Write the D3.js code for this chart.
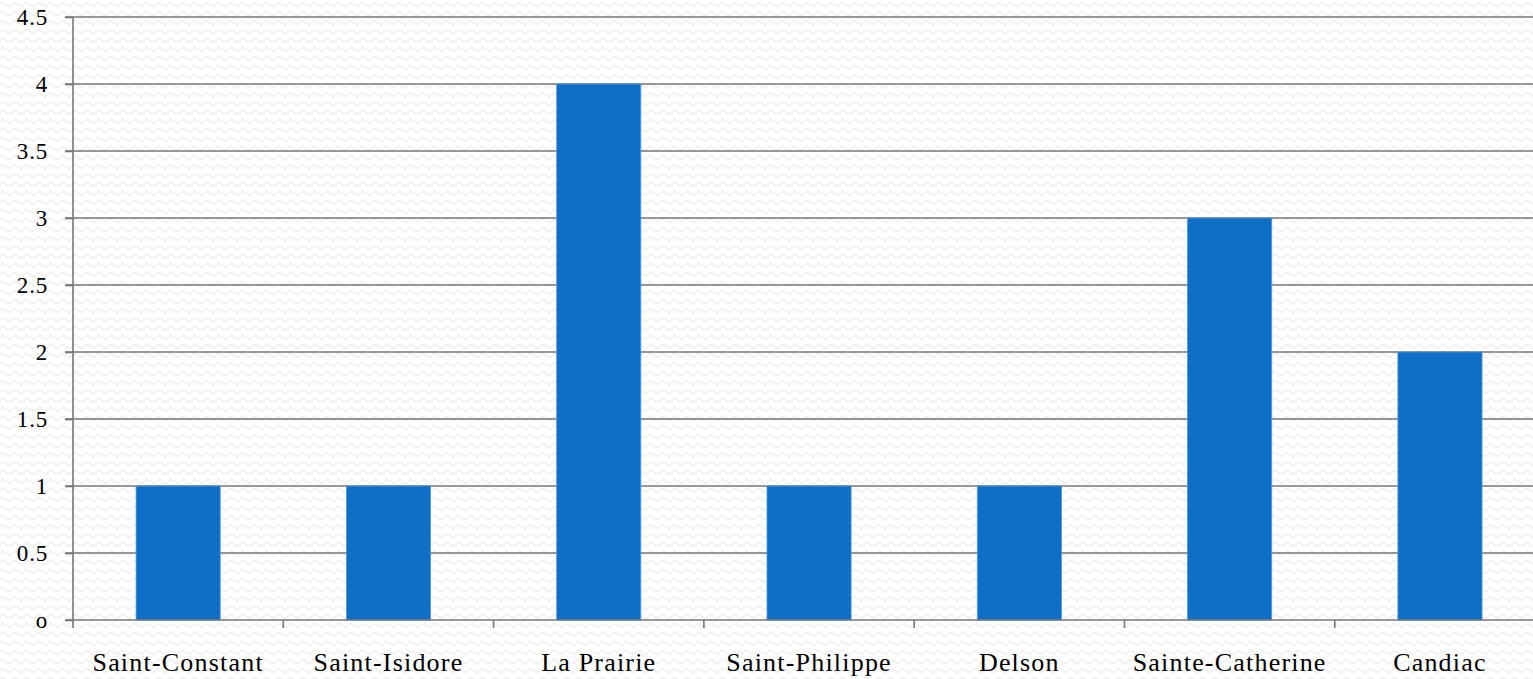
<!DOCTYPE html>
<html>
<head>
<meta charset="utf-8">
<script src="https://cdn.jsdelivr.net/npm/d3@7"></script>
<style>
  html, body { margin: 0; padding: 0; background: #fff; overflow: hidden; }
  svg { display: block; }
  text { font-family: "Liberation Serif", "DejaVu Serif", serif; fill: #000; }
</style>
</head>
<body>
<svg id="chart" width="1533" height="679"></svg>
<script>
// Data
const cities = ["Saint-Constant", "Saint-Isidore", "La Prairie", "Saint-Philippe", "Delson", "Sainte-Catherine", "Candiac"];
const counts = [1, 1, 4, 1, 1, 3, 2];
const yTicks = [0, 0.5, 1, 1.5, 2, 2.5, 3, 3.5, 4, 4.5];
const yTickLabels = ["o", "0.5", "1", "1.5", "2", "2.5", "3", "3.5", "4", "4.5"];

const W = 1533, H = 679;
const mLeft = 73, mTop = 17, mBottom = 620;
const step = 210.3;

const svg = d3.select("#chart");

// faint wavy background pattern
const defs = svg.append("defs");
const pat = defs.append("pattern")
  .attr("id", "wave")
  .attr("width", 12).attr("height", 9)
  .attr("patternUnits", "userSpaceOnUse");
pat.append("rect").attr("width", 12).attr("height", 9).attr("fill", "#fff");
pat.append("path")
  .attr("d", "M0,4.5 Q3,1 6,4.5 T12,4.5")
  .attr("fill", "none")
  .attr("stroke", "#f2f2f2")
  .attr("stroke-width", 2);
svg.append("rect").attr("width", W).attr("height", H).attr("fill", "url(#wave)");

const x = d3.scaleBand()
  .domain(cities)
  .range([mLeft, mLeft + step * cities.length])
  .paddingInner(0.6)
  .paddingOuter(0.3);

const y = d3.scaleLinear()
  .domain([0, 4.5])
  .range([mBottom, mTop]);

// gridlines
svg.append("g")
  .selectAll("line")
  .data(yTicks.filter(d => d > 0))
  .join("line")
  .attr("x1", mLeft - 8)
  .attr("x2", W)
  .attr("y1", d => y(d))
  .attr("y2", d => y(d))
  .attr("stroke", "#767676")
  .attr("stroke-width", 1.6);

// bars
svg.append("g")
  .selectAll("rect")
  .data(counts)
  .join("rect")
  .attr("x", (d, i) => x(cities[i]))
  .attr("y", d => y(d))
  .attr("width", x.bandwidth())
  .attr("height", d => y(0) - y(d))
  .attr("fill", "#0f6fc6")
  .attr("stroke", "#4f97d8")
  .attr("stroke-width", 0.8);

// y axis
const yAxis = svg.append("g")
  .attr("transform", `translate(${mLeft},0)`)
  .call(d3.axisLeft(y)
    .tickValues(yTicks)
    .tickFormat((d, i) => yTickLabels[i])
    .tickSize(8)
    .tickPadding(17));
yAxis.select(".domain").attr("stroke", "#767676").attr("stroke-width", 1.6).attr("d", `M0,${mTop}V${mBottom}`);
yAxis.selectAll(".tick line").attr("stroke", "#767676").attr("stroke-width", 1.6);
yAxis.selectAll("text").attr("font-size", 23).attr("fill", "#000")
  .attr("letter-spacing", 0.8)
  .style("font-family", '"Liberation Serif", "DejaVu Serif", serif');

// x axis
const boundaries = d3.range(cities.length + 1).map(i => mLeft + i * step);
const xg = svg.append("g");
xg.append("line")
  .attr("x1", mLeft - 8).attr("x2", W)
  .attr("y1", mBottom).attr("y2", mBottom)
  .attr("stroke", "#767676").attr("stroke-width", 1.6);
xg.selectAll("line.tk")
  .data(boundaries)
  .join("line")
  .attr("class", "tk")
  .attr("x1", d => d).attr("x2", d => d)
  .attr("y1", mBottom).attr("y2", mBottom + 8)
  .attr("stroke", "#767676").attr("stroke-width", 1.6);
xg.selectAll("text")
  .data(cities)
  .join("text")
  .attr("x", d => x(d) + x.bandwidth() / 2)
  .attr("y", 671)
  .attr("text-anchor", "middle")
  .attr("font-size", 26)
  .attr("letter-spacing", 1.2)
  .text(d => d);
</script>
</body>
</html>
